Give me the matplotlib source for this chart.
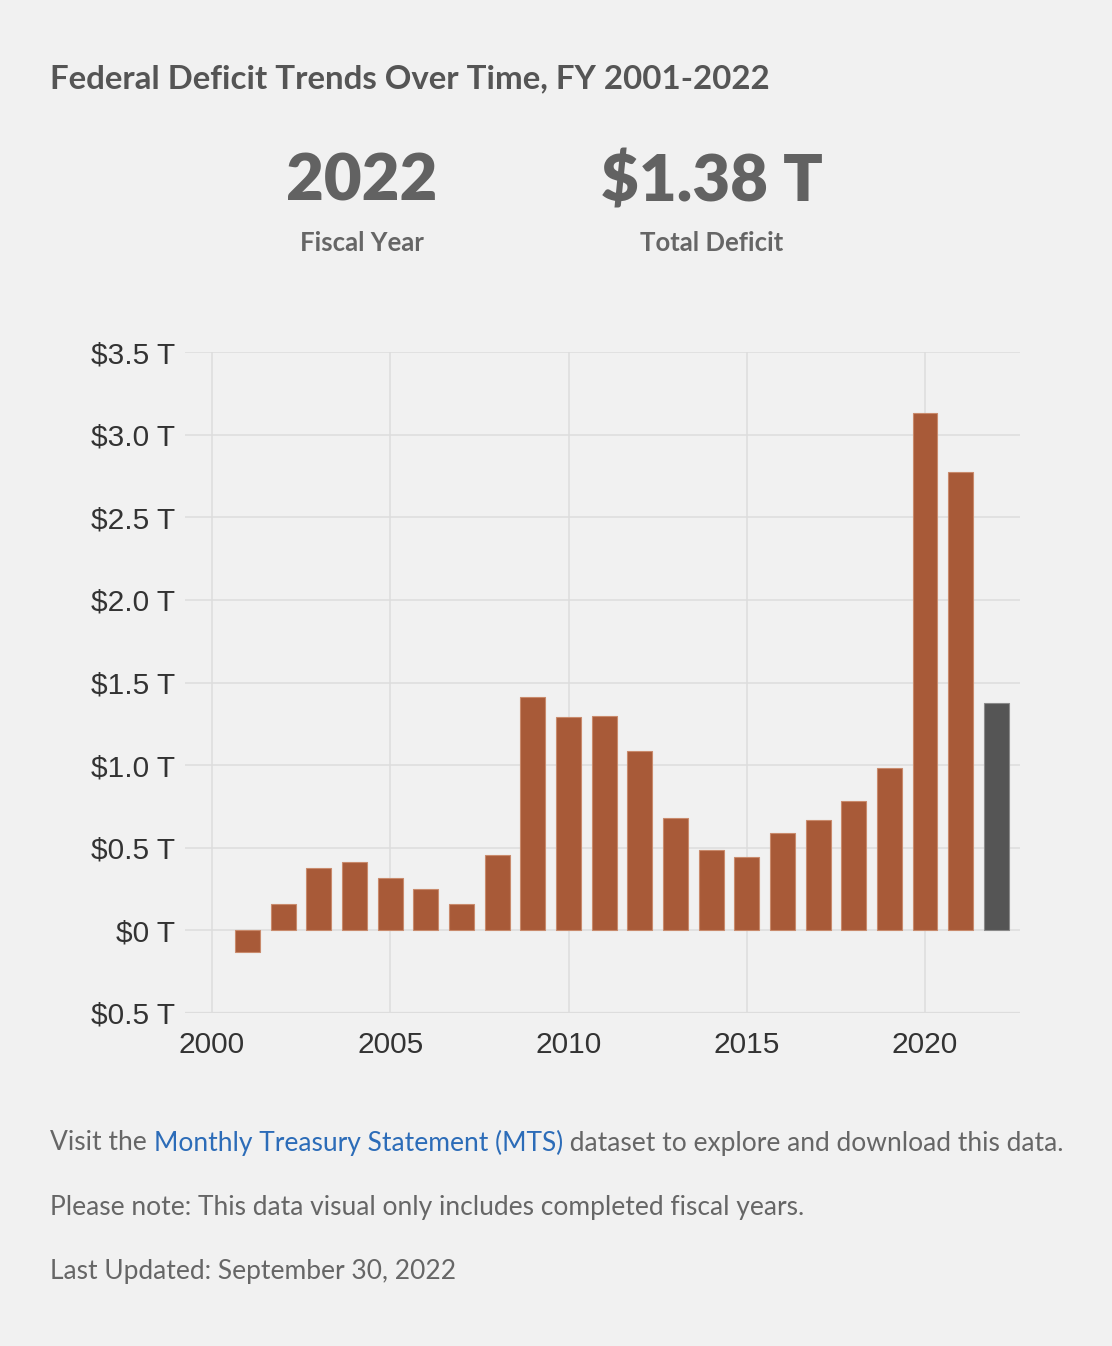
import numpy as np
import matplotlib
matplotlib.use("Agg")
import matplotlib.pyplot as plt

# fiscal years and deficits in trillions
years = [2001, 2002, 2003, 2004, 2005, 2006, 2007, 2008, 2009, 2010, 2011,
         2012, 2013, 2014, 2015, 2016, 2017, 2018, 2019, 2020, 2021, 2022]
deficit = [-0.128, 0.158, 0.378, 0.413, 0.318, 0.248, 0.161, 0.455, 1.413, 1.294, 1.300,
           1.087, 0.680, 0.485, 0.442, 0.587, 0.666, 0.782, 0.984, 3.129, 2.775, 1.378]
ytick_vals = [-0.5, 0, 0.5, 1.0, 1.5, 2.0, 2.5, 3.0, 3.5]
ytick_labels = ["$0.5 T", "$0 T", "$0.5 T", "$1.0 T", "$1.5 T", "$2.0 T", "$2.5 T", "$3.0 T", "$3.5 T"]
xtick_vals = [2000, 2005, 2010, 2015, 2020]

bg = "#f1f1f1"
bar_col = "#a85a38"
last_col = "#555555"
head_font = "Lato"
axis_font = "Liberation Sans"

fig = plt.figure(figsize=(11.12, 13.46), dpi=100, facecolor=bg)
W, H = 1112, 1346

def fx(px):
    return px / W

def fy(py):
    return 1 - py / H

# title and headline numbers
fig.text(fx(50), fy(79), "Federal Deficit Trends Over Time, FY 2001-2022", family=head_font,
         weight="bold", fontsize=23.8, color="#555555", va="center", ha="left")
fig.text(fx(362), fy(182), "2022", family=head_font, weight="heavy", fontsize=47,
         color="#626262", ha="center", va="center")
fig.text(fx(712), fy(182), "$1.38 T", family=head_font, weight="heavy", fontsize=47,
         color="#626262", ha="center", va="center")
fig.text(fx(362), fy(243), "Fiscal Year", family=head_font, weight="bold", fontsize=18.5,
         color="#666666", ha="center", va="center")
fig.text(fx(712), fy(243), "Total Deficit", family=head_font, weight="bold", fontsize=18.5,
         color="#666666", ha="center", va="center")

# chart
ax = fig.add_axes([fx(185), fy(1013), fx(1020) - fx(185), fy(352) - fy(1013)])
ax.set_facecolor(bg)
colors = [bar_col] * (len(years) - 1) + [last_col]
edges = ["#c98a6c"] * (len(years) - 1) + ["#8a8a8a"]
ax.bar(years, deficit, width=0.7, color=colors, edgecolor=edges, linewidth=0.8, zorder=3)

ax.set_xlim(2000 - 27 / 35.65, 2000 + (1020 - 212) / 35.65)
ax.set_ylim(-0.5, 3.5)
ax.set_yticks(ytick_vals)
ax.set_yticklabels(ytick_labels)
ax.set_xticks(xtick_vals)
ax.set_xticklabels([str(v) for v in xtick_vals])
ax.tick_params(length=0, labelsize=21.5, labelcolor="#333333", pad=7)
ax.tick_params(axis="x", pad=13)
for lab in ax.get_xticklabels() + ax.get_yticklabels():
    lab.set_family(axis_font)
ax.grid(True, color="#dddddd", linewidth=1.1)
ax.set_axisbelow(True)
for s in ax.spines.values():
    s.set_visible(False)
ax.axhline(-0.5, color="#dddddd", linewidth=1.6, zorder=1)

# footer
foot = 19
fig.canvas.draw()
rend = fig.canvas.get_renderer()
parts = [("Visit the ", "#666666"), ("Monthly Treasury Statement (MTS)", "#2c6cb8"),
         (" dataset to explore and download this data.", "#666666")]
xpos = fx(50)
for txt, c in parts:
    t = fig.text(xpos, fy(1143), txt, family=head_font, fontsize=foot, color=c,
                 ha="left", va="center")
    bb = t.get_window_extent(renderer=rend)
    xpos = xpos + bb.width / fig.bbox.width
fig.text(fx(50), fy(1207), "Please note: This data visual only includes completed fiscal years.",
         family=head_font, fontsize=foot, color="#666666", ha="left", va="center")
fig.text(fx(50), fy(1271), "Last Updated: September 30, 2022",
         family=head_font, fontsize=foot, color="#666666", ha="left", va="center")

fig.savefig("out.png", dpi=100, facecolor=bg)
